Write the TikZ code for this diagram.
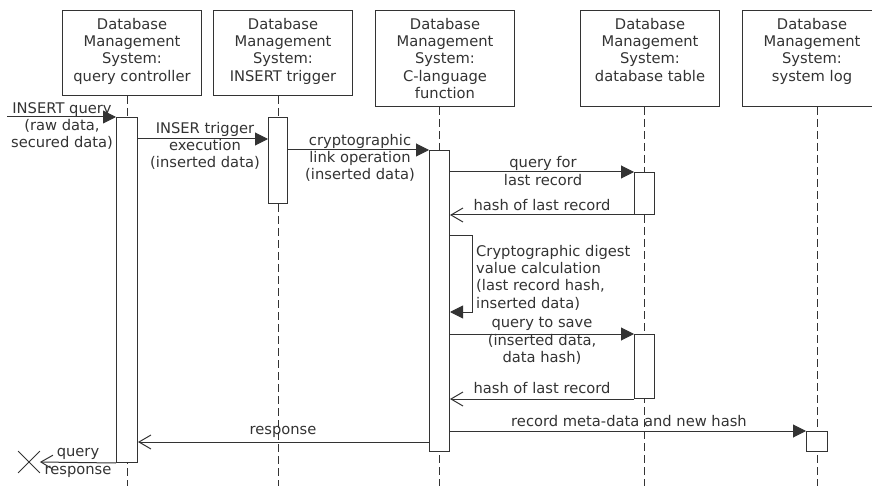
\documentclass[tikz,border=0pt]{standalone}
\usepackage{fontspec}
\setmainfont{DejaVu Sans}
\usetikzlibrary{arrows.meta,shapes.misc}
\definecolor{ink}{HTML}{333333}
\begin{document}
\begin{tikzpicture}[x=1pt,y=-1pt,
  txt/.style={text=ink, font=\fontsize{14.7}{17.3}\selectfont, inner sep=0pt, align=center},
  headbox/.style={draw=ink, line width=1pt, minimum width=139pt, anchor=north west, inner sep=0pt},
  actbar/.style={draw=ink, fill=white, line width=1pt, anchor=north west, inner sep=0pt},
  lifeline/.style={draw=ink, line width=1pt, dash pattern=on 8pt off 4pt},
  callmsg/.style={draw=ink, line width=1pt, -{Triangle[length=13pt,width=13pt]}},
  retmsg/.style={draw=ink, line width=1pt, -{Straight Barb[length=12pt,width=14pt]}},
]
\useasboundingbox (0,0) rectangle (872,486);
\clip (0,0) rectangle (872,486);

% header boxes
\node[headbox, minimum height=85pt] (h1) at (62,10) {};
\node[headbox, minimum height=85pt] (h2) at (213,10) {};
\node[headbox, minimum height=96pt] (h3) at (375,10) {};
\node[headbox, minimum height=96pt] (h4) at (580,10) {};
\node[headbox, minimum height=96pt] (h5) at (742,10) {};
\node[txt, anchor=north] (t1) at ([yshift=-8pt]h1.north) {Database\\Management\\System:\\query controller};
\node[txt, anchor=north] (t2) at ([yshift=-8pt]h2.north) {Database\\Management\\System:\\INSERT trigger};
\node[txt, anchor=north] (t3) at ([yshift=-8pt]h3.north) {Database\\Management\\System:\\C-language\\function};
\node[txt, anchor=north] (t4) at ([yshift=-8pt]h4.north) {Database\\Management\\System:\\database table};
\node[txt, anchor=north] (t5) at ([yshift=-8pt]h5.north) {Database\\Management\\System:\\system log};

% lifelines
\coordinate (e1) at (127,486);
\coordinate (e2) at (278,486);
\coordinate (e3) at (439,486);
\coordinate (e4) at (644,486);
\coordinate (e5) at (817,486);
\draw[lifeline] (h1.south -| e1) -- (e1);
\draw[lifeline] (h2.south -| e2) -- (e2);
\draw[lifeline] (h3.south -| e3) -- (e3);
\draw[lifeline] (h4.south -| e4) -- (e4);
\draw[lifeline] (h5.south -| e5) -- (e5);

% activation bars
\node[actbar, minimum width=21pt, minimum height=345pt] (a1) at (116,117) {};
\node[actbar, minimum width=19pt, minimum height=86pt] (a2) at (268,117) {};
\node[actbar, minimum width=20pt, minimum height=301pt] (a3) at (429,150) {};
\node[actbar, minimum width=20pt, minimum height=42pt] (a4) at (634,172) {};
\node[actbar, minimum width=20pt, minimum height=64pt] (a4b) at (634,334) {};
\node[actbar, minimum width=21pt, minimum height=20pt] (a5) at (806,431) {};

% end marker
\node[draw=ink, cross out, minimum size=21pt, inner sep=0pt, line width=0.8pt] (fin) at (29,462) {};

% messages
\coordinate (src) at (7,117);
\draw[callmsg] (src) -- (a1.north west);
\draw[callmsg] (a1.east |- 0,139) -- (a2.west |- 0,139);
\draw[callmsg] (a2.east |- 0,150) -- (a3.north west);
\draw[callmsg] (a3.east |- 0,172) -- (a4.north west);
\draw[retmsg] (a4.south west) -- (a3.east |- a4.south west);
\draw[callmsg] (a3.east |- 0,236) -- (472,236) -- (472,312) -- (a3.east |- 0,312);
\draw[callmsg] (a3.east |- 0,334) -- (a4b.north west);
\draw[retmsg] (a4b.south west) -- (a3.east |- a4b.south west);
\draw[callmsg] (a3.east |- 0,431) -- (a5.north west);
\draw[retmsg] (a3.west |- 0,442) -- (a1.east |- 0,442);
\draw[retmsg] (a1.south west) -- (fin.east);

% labels
\node[txt] (m1) at (62,126) {INSERT query\\(raw data,\\secured data)};
\node[txt] (m2) at (205,146) {INSER trigger\\execution\\(inserted data)};
\node[txt] (m3) at (360,158) {cryptographic\\link operation\\(inserted data)};
\node[txt] (m4) at (543,171) {query for\\last record};
\node[txt] (m5) at (542,205) {hash of last record};
\node[txt, anchor=west, align=left] (m6) at (476,277.5) {Cryptographic digest\\value calculation\\(last record hash,\\inserted data)};
\node[txt] (m7) at (542,341) {query to save\\(inserted data,\\data hash)};
\node[txt] (m8) at (542,388) {hash of last record};
\node[txt] (m9) at (629,421) {record meta-data and new hash};
\node[txt] (m10) at (283,432) {response};
\node[txt] (m11) at (78,463) {query\\response};
\end{tikzpicture}
\end{document}
